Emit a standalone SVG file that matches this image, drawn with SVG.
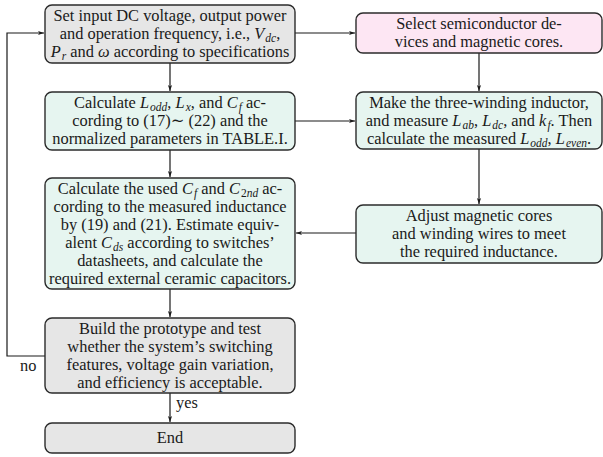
<svg xmlns="http://www.w3.org/2000/svg" width="603" height="457" viewBox="0 0 603 457">
<style>
.box{stroke:#2b2b2b;stroke-width:1.4}
.gray{fill:#e6e6e6}
.pink{fill:#fde6f3}
.mint{fill:#e6f5f0}
text{font-family:'Liberation Serif','Times New Roman','DejaVu Serif',serif;font-size:16.4px;fill:#1a1a1a;text-anchor:middle}
.m{font-style:italic}
.s{font-size:11.5px;font-style:italic}
.su{font-size:11.5px}
.lbl{text-anchor:start}
.conn{fill:none;stroke:#1a1a1a;stroke-width:1.2}
</style>
<defs>
<marker id="ah" viewBox="0 0 10 10" refX="10" refY="5" markerWidth="6" markerHeight="6" orient="auto" markerUnits="userSpaceOnUse">
<path d="M0,1.5 L10,5 L0,8.5 L2.5,5 Z" fill="#1a1a1a"/>
</marker>
</defs>
<g id="connectors">
<path class="conn" d="M295,33 H355" marker-end="url(#ah)"/>
<path class="conn" d="M170,63 V91" marker-end="url(#ah)"/>
<path class="conn" d="M295,121 H355" marker-end="url(#ah)"/>
<path class="conn" d="M479,53 V91" marker-end="url(#ah)"/>
<path class="conn" d="M170,150 V177" marker-end="url(#ah)"/>
<path class="conn" d="M479,149 V204" marker-end="url(#ah)"/>
<path class="conn" d="M356,233 H296" marker-end="url(#ah)"/>
<path class="conn" d="M170,289 V317" marker-end="url(#ah)"/>
<path class="conn" d="M170,393 V422" marker-end="url(#ah)"/>
<path class="conn" d="M45,356 H7 V33 H44" marker-end="url(#ah)"/>
<text class="lbl" x="20" y="371">no</text>
<text class="lbl" x="176" y="408">yes</text>
</g>
<g id="n1">
<rect class="box gray" x="45" y="5" width="250" height="58" rx="7"/>
<text x="170" y="21">Set input DC voltage, output power</text>
<text x="170" y="39">and operation frequency, i.e., <tspan class="m">V</tspan><tspan class="s" dx="1" dy="3">dc</tspan><tspan dy="-3">,</tspan></text>
<text x="170" y="57"><tspan class="m">P</tspan><tspan class="s" dx="1" dy="3">r</tspan><tspan dy="-3"> and </tspan><tspan class="m">ω</tspan> according to specifications</text>
</g>
<g id="n2">
<rect class="box pink" x="356" y="13" width="246" height="40" rx="7"/>
<text x="479" y="29">Select semiconductor de-</text>
<text x="479" y="47">vices and magnetic cores.</text>
</g>
<g id="n3">
<rect class="box mint" x="45" y="92" width="250" height="58" rx="7"/>
<text x="170" y="108">Calculate <tspan class="m">L</tspan><tspan class="s" dx="1" dy="3">odd</tspan><tspan dy="-3">, </tspan><tspan class="m">L</tspan><tspan class="s" dx="1" dy="3">x</tspan><tspan dy="-3">, and </tspan><tspan class="m">C</tspan><tspan class="s" dx="1" dy="3">f</tspan><tspan dy="-3"> ac-</tspan></text>
<text x="170" y="126">cording to (17)∼ (22) and the</text>
<text x="170" y="144">normalized parameters in TABLE.I.</text>
</g>
<g id="n4">
<rect class="box mint" x="356" y="92" width="246" height="57" rx="7"/>
<text x="479" y="108">Make the three-winding inductor,</text>
<text x="479" y="126">and measure <tspan class="m">L</tspan><tspan class="s" dx="1" dy="3">ab</tspan><tspan dy="-3">, </tspan><tspan class="m">L</tspan><tspan class="s" dx="1" dy="3">dc</tspan><tspan dy="-3">, and </tspan><tspan class="m">k</tspan><tspan class="s" dx="1" dy="3">f</tspan><tspan dy="-3">. Then</tspan></text>
<text x="479" y="144">calculate the measured <tspan class="m">L</tspan><tspan class="s" dx="1" dy="3">odd</tspan><tspan dy="-3">, </tspan><tspan class="m">L</tspan><tspan class="s" dx="1" dy="3">even</tspan><tspan dy="-3">.</tspan></text>
</g>
<g id="n5">
<rect class="box mint" x="45" y="178" width="250" height="111" rx="7"/>
<text x="170" y="194">Calculate the used <tspan class="m">C</tspan><tspan class="s" dx="1" dy="3">f</tspan><tspan dy="-3"> and </tspan><tspan class="m">C</tspan><tspan class="su" dx="1" dy="3">2</tspan><tspan class="s">nd</tspan><tspan dy="-3"> ac-</tspan></text>
<text x="170" y="212">cording to the measured inductance</text>
<text x="170" y="230">by (19) and (21). Estimate equiv-</text>
<text x="170" y="248">alent <tspan class="m">C</tspan><tspan class="s" dx="1" dy="3">ds</tspan><tspan dy="-3"> according to switches’</tspan></text>
<text x="170" y="266">datasheets, and calculate the</text>
<text x="170" y="284">required external ceramic capacitors.</text>
</g>
<g id="n6">
<rect class="box mint" x="356" y="205" width="246" height="58" rx="7"/>
<text x="479" y="221">Adjust magnetic cores</text>
<text x="479" y="239">and winding wires to meet</text>
<text x="479" y="257">the required inductance.</text>
</g>
<g id="n7">
<rect class="box gray" x="45" y="318" width="250" height="75" rx="7"/>
<text x="170" y="334">Build the prototype and test</text>
<text x="170" y="352">whether the system’s switching</text>
<text x="170" y="370">features, voltage gain variation,</text>
<text x="170" y="388">and efficiency is acceptable.</text>
</g>
<g id="n8">
<rect class="box gray" x="45" y="423" width="250" height="30" rx="7"/>
<text x="170" y="443">End</text>
</g>
</svg>
